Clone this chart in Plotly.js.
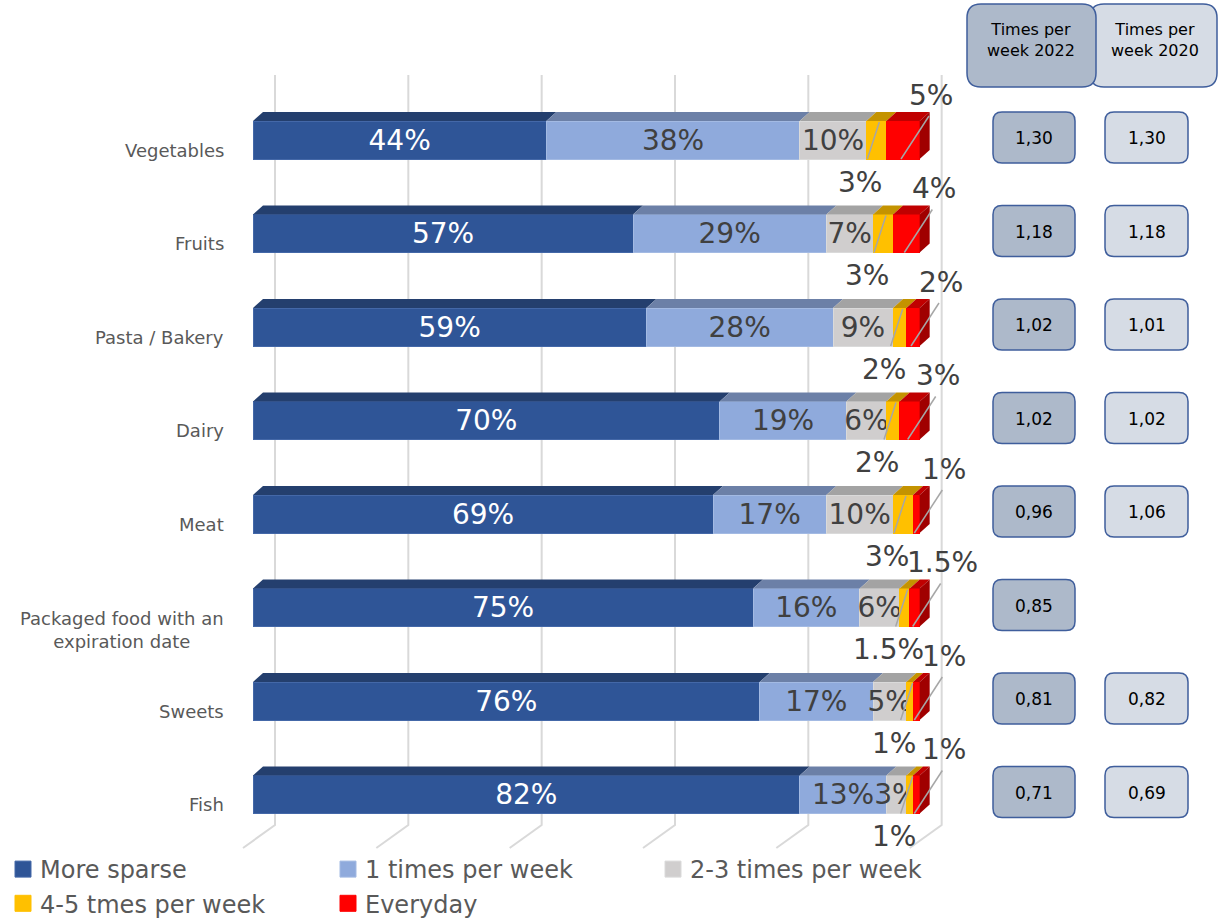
<!DOCTYPE html>
<html><head><meta charset="utf-8">
<script src="https://cdn.plot.ly/plotly-3.0.1.min.js"></script>
<style>html,body{margin:0;padding:0;background:#fff}#chart{width:1223px;height:922px}</style>
</head><body><div id="chart"></div>
<script>
// ---------- data ----------
const categories = ['Vegetables','Fruits','Pasta / Bakery','Dairy','Meat','Packaged food with an<br>expiration date','Sweets','Fish'];
const seriesNames = ['More sparse','1 times per week','2-3 times per week','4-5 tmes per week','Everyday'];
const moreSparse      = [44,57,59,70,69,75,76,82];
const oncePerWeek     = [38,29,28,19,17,16,17,13];
const twoThreePerWeek = [10, 7, 9, 6,10, 6, 5, 3];
const fourFivePerWeek = [ 3, 3, 2, 2, 3,1.5, 1, 1];
const everyday        = [ 5, 4, 2, 3, 1,1.5, 1, 1];
const times2022 = [1.30,1.18,1.02,1.02,0.96,0.85,0.81,0.71];
const times2020 = [1.30,1.18,1.01,1.02,1.06,null,0.82,0.69];
const boxHeaders = ['Times per<br>week 2022','Times per<br>week 2020'];

// ---------- styles / geometry ----------
const series = [moreSparse, oncePerWeek, twoThreePerWeek, fourFivePerWeek, everyday];
const frontColors = ['#2F5597','#8FAADC','#D0CECE','#FFC000','#FF0000'];
const edgeColors  = ['#4468A8','#A3BAE3','#DADADA','#FFC000','#FF0000'];
const topColors   = ['#243F6E','#6C80A7','#A3A3A3','#C49300','#C00000'];
const sideColor = '#A00000';
const textColors = ['#FFFFFF','#404040','#404040','#404040','#404040'];
const FONT = 'DejaVu Sans, Verdana, sans-serif';

const W = 1223, H = 922;
const X0 = 253, PXPCT = 133.333/20;      // px per percent
const Y0 = 140, PXROW = 93.5;            // centre of first bar, row pitch
const xd = px => (px - X0) / PXPCT;
const yd = py => (py - Y0) / PXROW;
const BW = 38 / PXROW;
const DX = 10 / PXPCT, DY = -9 / PXROW;
const rows = categories.map((c, i) => i);

const traces = series.map((vals, s) => ({
  type: 'bar', orientation: 'h', name: seriesNames[s],
  y: rows, x: vals, width: BW,
  marker: {color: frontColors[s], line: {color: edgeColors[s], width: 1}},
  text: s < 3 ? vals.map(v => v + '%') : vals.map(() => ''),
  textposition: s < 3 ? 'inside' : 'none',
  insidetextanchor: 'middle', textangle: 0, constraintext: 'none',
  insidetextfont: {family: FONT, size: 28, color: textColors[s]},
  hoverinfo: 'skip'
}));

const shapes = [];
const annotations = [];

// gridlines (back wall with floor slant)
for (let k = 0; k <= 100; k += 20) {
  const gx = k + 22 / PXPCT;
  shapes.push({type: 'path', layer: 'below', xref: 'x', yref: 'y',
    path: `M${gx},${yd(75)} L${gx},${yd(825)} L${gx - 32/PXPCT},${yd(848)}`,
    line: {color: '#D9D9D9', width: 2}});
}

// 3D faces
rows.forEach(i => {
  let c = 0;
  const yT = i - BW / 2, yB = i + BW / 2;
  series.forEach((vals, s) => {
    const x0 = c, x1 = c + vals[i];
    shapes.push({type: 'path', layer: 'above', xref: 'x', yref: 'y',
      path: `M${x0},${yT} L${x0 + DX},${yT + DY} L${x1 + DX},${yT + DY} L${x1},${yT} Z`,
      fillcolor: topColors[s], line: {width: 0}});
    c = x1;
  });
  shapes.push({type: 'path', layer: 'above', xref: 'x', yref: 'y',
    path: `M${c},${yT} L${c + DX},${yT + DY} L${c + DX},${yB + DY} L${c},${yB} Z`,
    fillcolor: sideColor, line: {width: 0}});
});

// outside labels with leader lines for the two small series
rows.forEach(i => {
  const rc = Y0 + PXROW * i;
  const c3 = moreSparse[i] + oncePerWeek[i] + twoThreePerWeek[i];
  const yMid = c3 + fourFivePerWeek[i] / 2;
  const rMid = c3 + fourFivePerWeek[i] + everyday[i] / 2;
  const yMidPx = X0 + yMid * PXPCT, rMidPx = X0 + rMid * PXPCT;
  // yellow: below-left
  shapes.push({type: 'line', layer: 'above', xref: 'x', yref: 'y',
    x0: xd(yMidPx + 3), y0: yd(rc - 18), x1: xd(yMidPx - 9), y1: yd(rc + 19),
    line: {color: '#A6A6A6', width: 1.5}});
  annotations.push({xref: 'x', yref: 'y', x: xd(yMidPx - 16), y: yd(rc + 42),
    text: fourFivePerWeek[i] + '%', showarrow: false,
    font: {family: FONT, size: 28, color: '#404040'}});
  // red: above-right
  shapes.push({type: 'line', layer: 'above', xref: 'x', yref: 'y',
    x0: xd(rMidPx + 26), y0: yd(rc - 24), x1: xd(rMidPx - 2), y1: yd(rc + 19),
    line: {color: '#A6A6A6', width: 1.5}});
  annotations.push({xref: 'x', yref: 'y', x: xd(rMidPx + 28), y: yd(rc - 45),
    text: everyday[i] + '%', showarrow: false,
    font: {family: FONT, size: 28, color: '#404040'}});
});

// category labels
categories.forEach((cat, i) => {
  const lines = cat.split('<br>').length;
  annotations.push({xref: 'x', yref: 'y', x: xd(226), xanchor: 'right',
    y: yd(Y0 + PXROW * i + 10 + 12 * (lines - 1)), text: cat, align: 'center',
    showarrow: false, font: {family: FONT, size: 18, color: '#595959'}});
});

// rounded boxes
function rr(x0, y0, x1, y1, r) {
  const P = (x, y) => `${xd(x)},${yd(y)}`;
  return `M${P(x0 + r, y0)} L${P(x1 - r, y0)} Q${P(x1, y0)} ${P(x1, y0 + r)} L${P(x1, y1 - r)} Q${P(x1, y1)} ${P(x1 - r, y1)} ` +
         `L${P(x0 + r, y1)} Q${P(x0, y1)} ${P(x0, y1 - r)} L${P(x0, y0 + r)} Q${P(x0, y0)} ${P(x0 + r, y0)} Z`;
}
const box22 = '#ADB9CA', box20 = '#D6DCE5', boxLine = '#3F5E9C';
shapes.push({type: 'path', layer: 'above', xref: 'x', yref: 'y', path: rr(1090, 4, 1217, 87, 14),
  fillcolor: box20, line: {color: boxLine, width: 1.5}});
shapes.push({type: 'path', layer: 'above', xref: 'x', yref: 'y', path: rr(967, 4, 1096, 87, 14),
  fillcolor: box22, line: {color: boxLine, width: 1.5}});
annotations.push({xref: 'x', yref: 'y', x: xd(1031), y: yd(40), text: boxHeaders[0], showarrow: false,
  font: {family: FONT, size: 16, color: '#000'}});
annotations.push({xref: 'x', yref: 'y', x: xd(1155), y: yd(40), text: boxHeaders[1], showarrow: false,
  font: {family: FONT, size: 16, color: '#000'}});
const fmt = v => v.toFixed(2).replace('.', ',');
rows.forEach(i => {
  const c = Y0 + PXROW * i - 3;
  [[times2022[i], 993, 1075, box22], [times2020[i], 1105, 1188, box20]].forEach(([v, a, b, col]) => {
    if (v === null) return;
    shapes.push({type: 'path', layer: 'above', xref: 'x', yref: 'y', path: rr(a, c - 25, b, c + 26, 9),
      fillcolor: col, line: {color: boxLine, width: 1.5}});
    annotations.push({xref: 'x', yref: 'y', x: xd((a + b) / 2), y: yd(c + 1), text: fmt(v), showarrow: false,
      font: {family: FONT, size: 17, color: '#000'}});
  });
});

const layout = {
  width: W, height: H, margin: {l: 0, r: 0, t: 0, b: 0, autoexpand: false},
  paper_bgcolor: '#fff', plot_bgcolor: '#fff',
  barmode: 'stack', bargap: 0, hovermode: false,
  xaxis: {range: [xd(0), xd(W)], visible: false, fixedrange: true},
  yaxis: {range: [yd(H), yd(0)], visible: false, fixedrange: true},
  showlegend: true,
  legend: {orientation: 'h', x: 0, xanchor: 'left', y: 1 - 847 / H, yanchor: 'top',
    font: {family: FONT, size: 24, color: '#595959'}, entrywidth: 280, entrywidthmode: 'pixels',
    bgcolor: 'rgba(0,0,0,0)', traceorder: 'normal', itemclick: false, itemdoubleclick: false},
  shapes, annotations
};
Plotly.newPlot('chart', traces, layout, {staticPlot: true, displayModeBar: false}).then(gd => {
  // enlarge legend swatches to match the reference's 16px squares
  gd.querySelectorAll('.legend .legendpoints path').forEach(p => p.setAttribute('d', 'M11,8H-5V-8H11Z'));
});
</script>
</body></html>
